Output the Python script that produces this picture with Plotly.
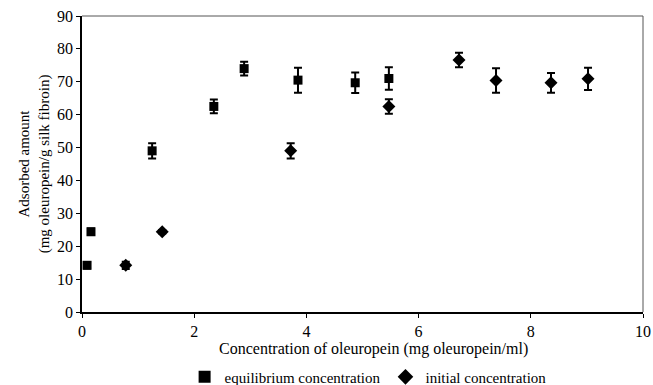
import plotly.graph_objects as go

eq_x = [0.09, 0.16, 1.25, 2.35, 2.89, 3.85, 4.87, 5.47]
eq_y = [14.2, 24.4, 49.0, 62.5, 74.0, 70.5, 69.7, 71.0]
eq_err = [1.0, 1.0, 2.3, 2.1, 2.1, 3.8, 3.1, 3.4]

in_x = [0.78, 1.43, 3.72, 5.47, 6.72, 7.38, 8.36, 9.02]
in_y = [14.2, 24.4, 49.0, 62.5, 76.6, 70.4, 69.7, 70.9]
in_err = [1.1, 0.5, 2.3, 2.2, 2.2, 3.7, 3.0, 3.4]

font = "Liberation Serif"

fig = go.Figure()
fig.add_trace(go.Scatter(
    x=eq_x, y=eq_y, mode="markers", name="equilibrium concentration",
    marker=dict(symbol="square", size=9, color="black"),
    error_y=dict(type="data", array=eq_err, color="black", thickness=2, width=4),
))
fig.add_trace(go.Scatter(
    x=in_x, y=in_y, mode="markers", name="initial concentration",
    marker=dict(symbol="diamond", size=10, color="black"),
    error_y=dict(type="data", array=in_err, color="black", thickness=2, width=4),
))

fig.update_layout(
    width=653, height=385,
    margin=dict(l=82, r=10, t=16, b=73, autoexpand=False),
    paper_bgcolor="white", plot_bgcolor="white",
    font=dict(family=font, size=15, color="black"),
    showlegend=True,
    legend=dict(orientation="h", x=0.51, xanchor="center", y=-0.22, yanchor="middle",
                font=dict(family=font, size=15), tracegroupgap=0,
                itemsizing="constant", itemwidth=30),
    xaxis=dict(range=[0, 10], dtick=2, showgrid=False, zeroline=False,
               showline=True, linecolor="black", linewidth=1.5,
               ticks="outside", ticklen=4, tickcolor="black", automargin=False,
               mirror=False, tickfont=dict(family=font, size=16)),
    yaxis=dict(range=[0, 90], dtick=10, showgrid=False, zeroline=False,
               showline=True, linecolor="black", linewidth=1.5,
               ticks="outside", ticklen=4, tickcolor="black", automargin=False,
               tickfont=dict(family=font, size=16),
               title=dict(text="Adsorbed amount<br>(mg oleuropein/g silk fibroin)",
                          font=dict(family=font, size=15), standoff=4)),
    shapes=[
        dict(type="line", xref="paper", yref="paper", x0=0, x1=1, y0=1, y1=1,
             line=dict(color="#555555", width=1)),
        dict(type="line", xref="paper", yref="paper", x0=1, x1=1, y0=0, y1=1,
             line=dict(color="#555555", width=1)),
    ],
    annotations=[
        dict(text="Concentration of oleuropein (mg oleuropein/ml)", xref="paper", yref="paper",
             x=0.52, y=-0.125, xanchor="center", yanchor="middle", showarrow=False,
             font=dict(family=font, size=16)),
    ],
)

fig.write_html("out.html")
